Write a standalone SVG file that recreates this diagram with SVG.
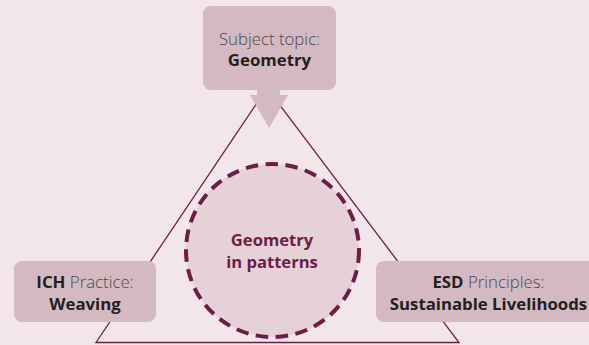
<svg xmlns="http://www.w3.org/2000/svg" width="589" height="345" viewBox="0 0 589 345">
<style>
.box{fill:#d5b9c2}
.t{font-family:"Open Sans","Liberation Sans",sans-serif;font-size:16.8px;text-anchor:middle;fill:#231f20}
.l{font-weight:300;fill:#4a4a4a}
.b{font-weight:700}
.c{font-family:"Open Sans","Liberation Sans",sans-serif;font-size:16.6px;font-weight:700;text-anchor:middle;fill:#6d1d47}
.edge{fill:none;stroke:#6d1d47;stroke-width:1.3}
</style>
<rect width="589" height="345" fill="#f2e6ea"/>
<g id="connectors">
<path class="edge" d="M267 88 L96 342.5 L459 342.5 Z"/>
</g>
<g id="center">
<circle cx="272.5" cy="250.5" r="86.5" fill="#e5d1d7" stroke="#6d1d47" stroke-width="4" stroke-dasharray="12.5 7.5"/>
<text class="c" x="272" y="246">Geometry</text>
<text class="c" x="272" y="268">in patterns</text>
</g>
<g id="subject">
<rect class="box" x="203" y="6" width="133" height="84" rx="8"/>
<path class="box" d="M257 89 H280 V95 H288 L269 128 L250 95 H257 Z"/>
<text class="t l" x="269.5" y="45" font-size="17.6">Subject topic:</text>
<text class="t b" x="269.5" y="66">Geometry</text>
</g>
<g id="ich">
<rect class="box" x="14" y="261" width="142" height="61" rx="8"/>
<text class="t" x="85" y="288"><tspan class="b">ICH</tspan><tspan class="l"> Practice:</tspan></text>
<text class="t b" x="85" y="310">Weaving</text>
</g>
<g id="esd">
<rect class="box" x="376" y="261" width="224" height="61" rx="8"/>
<text class="t" x="488.5" y="288"><tspan class="b">ESD</tspan><tspan class="l"> Principles:</tspan></text>
<text class="t b" x="488.5" y="310">Sustainable Livelihoods</text>
</g>
</svg>
